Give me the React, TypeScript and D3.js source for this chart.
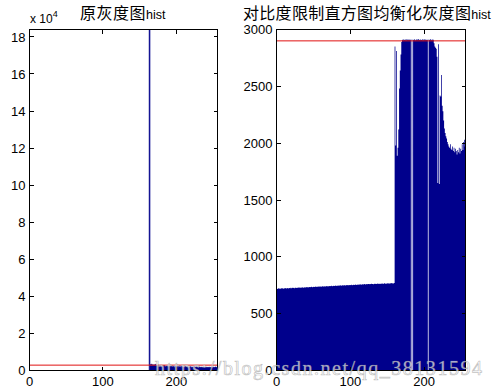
import React from 'react';
import * as d3 from 'd3';

const W = 496;
const H = 390;

// grey levels 0..255
const bins = d3.range(256);

// original image histogram: every bin below 163 is empty
const origStart = 163;
const origCounts = [184000,
    3200, 2600, 3400, 2900, 2400, 3100, 2700, 3300, 2500, 2800,
    2300, 2900, 2600, 2200, 2700, 2400, 2100, 2500, 2300, 2600,
    2200, 2000, 2400, 2100, 2300, 1900, 2200, 2000, 2300, 2100,
    1900, 2200, 2000, 1800, 2100, 1900, 2200, 2000, 1800, 2100,
    1900, 2000, 1800, 2100, 1900, 1700, 2000, 1800, 2100, 1900,
    1700, 2000, 1800, 1900, 1700, 2000, 1800, 1600, 1900, 1700,
    2000, 1800, 1700, 1900, 1600, 1800, 1700, 1900, 1600, 1800,
    1700, 1500, 1800, 1600, 1900, 1700, 1500, 1800, 1600, 1700,
    1500, 1800, 1600, 1400, 1700, 1500, 1800, 1600, 1700, 1900,
    1600, 1800];

// CLAHE histogram, bins 0..159
const claheLow = [
    721, 718, 723, 720, 722, 719, 724, 721, 723, 720,
    724, 722, 725, 721, 724, 726, 722, 725, 723, 727,
    724, 727, 725, 728, 724, 727, 729, 726, 728, 730,
    727, 730, 728, 731, 729, 732, 728, 731, 733, 730,
    732, 734, 731, 733, 735, 732, 734, 736, 733, 735,
    737, 734, 736, 738, 735, 737, 739, 736, 738, 740,
    737, 739, 741, 738, 740, 742, 739, 741, 743, 740,
    742, 744, 741, 743, 745, 742, 744, 746, 743, 745,
    747, 744, 746, 748, 745, 747, 749, 746, 748, 750,
    747, 749, 751, 748, 750, 752, 749, 751, 753, 750,
    752, 754, 751, 753, 755, 752, 754, 756, 753, 755,
    757, 754, 756, 758, 755, 757, 759, 756, 758, 760,
    757, 759, 761, 758, 760, 762, 759, 761, 763, 760,
    762, 759, 763, 761, 764, 760, 763, 765, 762, 764,
    761, 765, 763, 766, 762, 765, 767, 764, 766, 763,
    767, 765, 768, 764, 767, 769, 766, 768, 765, 770];

// CLAHE histogram, bins 160..255
const claheHigh = [
    2850, 1980, 2810, 1890, 1960, 2120, 2480, 2640, 2780, 2890,
    2910, 2905, 2915, 2908, 2912, 2906, 2914, 2909, 2911, 2907, 2913, 2910,
    0, 2912, 0,
    2908, 2914, 2910, 2906, 2913, 2909, 2911, 2915, 2907, 2912,
    2910, 2908, 2914, 2906, 2911, 2913, 2909, 2912, 2907, 2910,
    0,
    2912, 2908, 2914, 2910, 2906, 2913, 2909,
    2880, 2850, 2840, 2830, 2760, 1650, 2870, 1640, 2420, 2410,
    2600, 2330, 2280, 2200, 2130, 2090, 2060, 2040, 2010, 1990,
    1970, 1960, 1990, 1950, 1940, 1970, 1930, 1960, 1920, 1950,
    1930, 1900, 1940, 1920, 1960, 1910, 1950, 1930, 1990, 1940,
    2010, 2030, 1970];

const clipLimit = 2900;

const leftYTicks = [0, 2, 4, 6, 8, 10, 12, 14, 16, 18]; // x 10^4
const rightYTicks = [0, 500, 1000, 1500, 2000, 2500, 3000];
const xTicks = [0, 100, 200];

const barColor = '#00008c';
const limitColor = '#e01010';
const sans = '"Liberation Sans", Arial, sans-serif';
const cjk = '"Noto Sans CJK SC", sans-serif';

function Hist(props) {
    const { left, right, top, bottom, counts, yMax, yTicks, yScaleFactor, outline } = props;
    const x = d3.scaleLinear().domain([0, 256]).range([left, right]);
    const y = d3.scaleLinear().domain([0, yMax]).range([bottom, top]);

    // step area, one step per bin, closed at the right edge of bin 255
    const pts = bins.map(b => ({ b, v: counts[b] }));
    pts.push({ b: 256, v: counts[255] });
    const area = d3.area()
        .x(d => x(d.b))
        .y0(y(0))
        .y1(d => y(Math.min(d.v, yMax)))
        .curve(d3.curveStepAfter);

    const tick = 4;
    return (
        <g>
            <path d={area(pts)} fill={barColor} stroke={outline ? barColor : 'none'} strokeWidth={outline ? 0.7 : 0} />
            <line x1={left} x2={right} y1={y(clipLimit)} y2={y(clipLimit)} stroke={limitColor} strokeWidth={1} />
            <g shapeRendering="crispEdges" stroke="#000" strokeWidth={1}>
                <rect x={left} y={top} width={right - left} height={bottom - top} fill="none" />
                {yTicks.map(t => (
                    <g key={'y' + t}>
                        <line x1={left} x2={left + tick} y1={y(t * yScaleFactor)} y2={y(t * yScaleFactor)} />
                        <line x1={right - tick} x2={right} y1={y(t * yScaleFactor)} y2={y(t * yScaleFactor)} />
                    </g>
                ))}
                {xTicks.map(t => (
                    <g key={'x' + t}>
                        <line x1={x(t)} x2={x(t)} y1={bottom} y2={bottom - tick} />
                        <line x1={x(t)} x2={x(t)} y1={top} y2={top + tick} />
                    </g>
                ))}
            </g>
            <g fontFamily={sans} fontSize={13} fill="#000">
                {yTicks.map(t => (
                    <text key={'yl' + t} x={left - 4} y={y(t * yScaleFactor) + 4.6} textAnchor="end">{t}</text>
                ))}
                {xTicks.map(t => (
                    <text key={'xl' + t} x={x(t)} y={bottom + 15.5} textAnchor="middle">{t}</text>
                ))}
            </g>
        </g>
    );
}

export default function App() {
    const orig = bins.map(b => (b < origStart ? 0 : origCounts[b - origStart]));
    const clahe = [...claheLow, ...claheHigh];

    return (
        <svg width={W} height={H} style={{ position: 'absolute', left: 0, top: 0, background: '#fff' }}>
            <rect width={W} height={H} fill="#fff" />
            <Hist left={29.5} right={217.5} top={29.5} bottom={370.5} counts={orig}
                yMax={184000} yTicks={leftYTicks} yScaleFactor={10000} outline />
            <Hist left={276.5} right={465.5} top={29.5} bottom={370.5} counts={clahe}
                yMax={3000} yTicks={rightYTicks} yScaleFactor={1} />

            <text x={30} y={23} fontFamily={sans} fontSize={12}>
                x 10<tspan fontSize={9} dy={-6}>4</tspan>
            </text>

            <text x={80} y={19}>
                <tspan fontFamily={cjk} fontSize={16} letterSpacing={0.5}>原灰度图</tspan>
                <tspan fontFamily={sans} fontSize={12.5}>hist</tspan>
            </text>
            <text x={243} y={19}>
                <tspan fontFamily={cjk} fontSize={16} letterSpacing={0.3}>对比度限制直方图均衡化灰度图</tspan>
                <tspan fontFamily={sans} fontSize={12.5}>hist</tspan>
            </text>

            {/* watermark */}
            <text x={155} y={375} fontFamily='"Liberation Serif", serif' fontSize={20}
                textLength={327} lengthAdjust="spacing"
                fill="rgba(255,255,255,0.7)" stroke="rgba(140,140,140,0.55)" strokeWidth={0.7}>
                https://blog.csdn.net/qq_38131594
            </text>
        </svg>
    );
}
